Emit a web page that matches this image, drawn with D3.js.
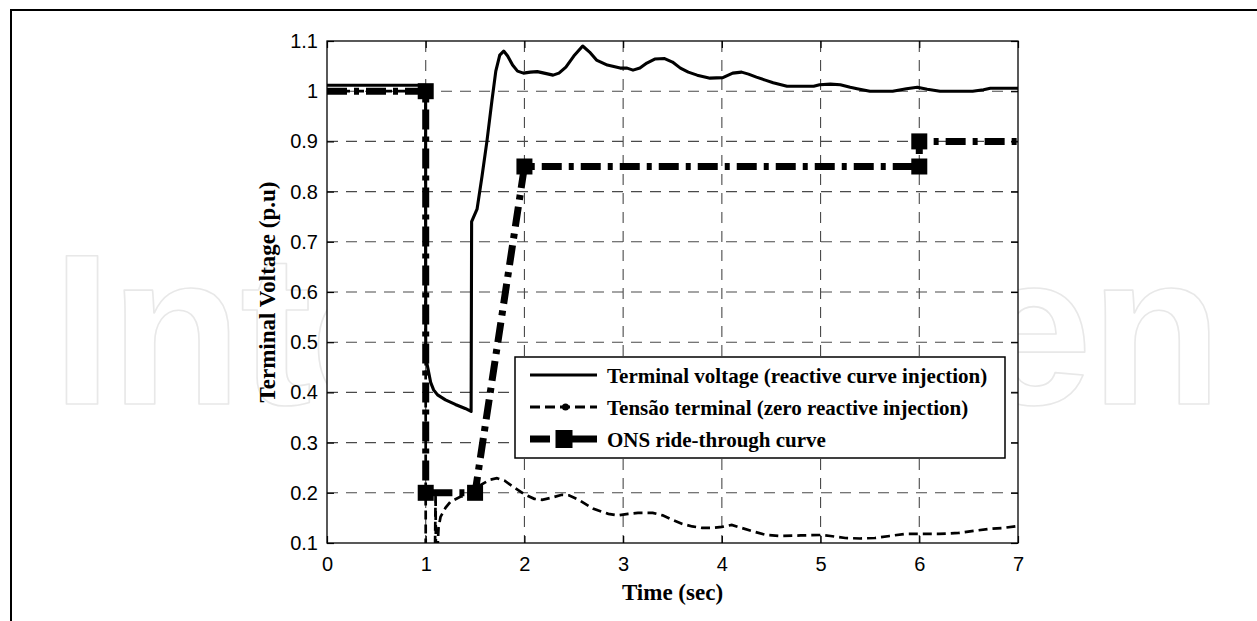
<!DOCTYPE html>
<html>
<head>
<meta charset="utf-8">
<script src="https://cdn.jsdelivr.net/npm/d3@7"></script>
<style>
  html, body { margin: 0; padding: 0; background: #fff; }
  svg { display: block; }
</style>
</head>
<body>
<script>
// ---------- DATA ----------
const xTickValues = [0, 1, 2, 3, 4, 5, 6, 7];
const yTickValues = [0.1, 0.2, 0.3, 0.4, 0.5, 0.6, 0.7, 0.8, 0.9, 1.0, 1.1];

// Terminal voltage (reactive curve injection)
const reactiveT = [0, 0.999, 1.0, 1.02, 1.05, 1.08, 1.12, 1.2, 1.3, 1.4, 1.46, 1.465, 1.52, 1.57, 1.62, 1.67, 1.71, 1.75, 1.79, 1.83, 1.88, 1.93, 1.99, 2.06, 2.13, 2.2, 2.29, 2.35, 2.42, 2.5, 2.59, 2.66, 2.73, 2.84, 2.97, 3.04, 3.10, 3.17, 3.24, 3.32, 3.42, 3.5, 3.58, 3.66, 3.75, 3.88, 4.01, 4.11, 4.2, 4.27, 4.35, 4.44, 4.52, 4.66, 4.8, 4.93, 4.99, 5.1, 5.2, 5.3, 5.37, 5.5, 5.73, 5.87, 5.98, 6.08, 6.21, 6.54, 6.65, 6.72, 7.0];
const reactiveV = [1.012, 1.012, 0.47, 0.45, 0.42, 0.405, 0.395, 0.385, 0.376, 0.368, 0.362, 0.74, 0.765, 0.83, 0.9, 0.98, 1.04, 1.072, 1.08, 1.07, 1.052, 1.04, 1.036, 1.038, 1.039, 1.036, 1.032, 1.036, 1.048, 1.07, 1.09, 1.078, 1.062, 1.052, 1.046, 1.046, 1.042, 1.046, 1.056, 1.064, 1.065, 1.058, 1.046, 1.038, 1.032, 1.026, 1.027, 1.036, 1.038, 1.034, 1.028, 1.022, 1.017, 1.01, 1.01, 1.01, 1.013, 1.014, 1.013, 1.008, 1.005, 1.0, 1.0, 1.005, 1.008, 1.004, 1.0, 1.0, 1.003, 1.006, 1.006];

// Tensão terminal (zero reactive injection)
const zeroT = [0, 0.999, 1.0, 1.09, 1.1, 1.105, 1.11, 1.12, 1.13, 1.15, 1.2, 1.25, 1.35, 1.43, 1.47, 1.55, 1.65, 1.72, 1.8, 1.9, 2.0, 2.1, 2.18, 2.27, 2.38, 2.45, 2.55, 2.7, 2.85, 2.95, 3.05, 3.15, 3.3, 3.4, 3.5, 3.6, 3.7, 3.8, 3.9, 4.0, 4.1, 4.2, 4.3, 4.45, 4.6, 4.8, 5.0, 5.1, 5.25, 5.4, 5.55, 5.7, 5.85, 6.0, 6.2, 6.4, 6.55, 6.7, 6.85, 7.0];
const zeroV = [1.0, 1.0, 0.0, 0.0, 0.2, 0.0, 0.0, 0.09, 0.13, 0.152, 0.17, 0.182, 0.192, 0.196, 0.2, 0.215, 0.226, 0.229, 0.224, 0.21, 0.197, 0.188, 0.186, 0.19, 0.196, 0.195, 0.186, 0.168, 0.158, 0.155, 0.158, 0.16, 0.16, 0.155, 0.146, 0.138, 0.133, 0.13, 0.13, 0.132, 0.136, 0.13, 0.124, 0.116, 0.114, 0.115, 0.116, 0.114, 0.11, 0.109, 0.11, 0.114, 0.118, 0.118, 0.118, 0.12, 0.124, 0.128, 0.13, 0.134];

// ONS ride-through curve
const onsT = [0, 1, 1, 1.5, 2, 6, 6, 7];
const onsV = [1.0, 1.0, 0.2, 0.2, 0.85, 0.85, 0.9, 0.9];
const onsMarkerIdx = [1, 2, 3, 4, 5, 6];

const legendLabels = [
  "Terminal voltage (reactive curve injection)",
  "Tensão terminal (zero reactive injection)",
  "ONS ride-through curve"
];
const xLabel = "Time (sec)";
const yLabel = "Terminal Voltage (p.u)";
const watermark = "IntechOpen";

// ---------- LAYOUT ----------
const W = 1257, H = 621;
const L = 327, T = 41, R = 1018, B = 543;

const svg = d3.select("body").append("svg").attr("width", W).attr("height", H);

// page frame (top + left lines)
svg.append("line").attr("x1", 10).attr("x2", W).attr("y1", 10).attr("y2", 10)
  .attr("stroke", "#000").attr("stroke-width", 2);
svg.append("line").attr("x1", 11).attr("x2", 11).attr("y1", 9).attr("y2", H)
  .attr("stroke", "#000").attr("stroke-width", 2);

// watermark (faint outline, single text)
svg.append("text")
  .attr("x", 52).attr("y", 404)
  .attr("font-family", "'Liberation Sans', Arial, sans-serif")
  .attr("font-weight", "bold")
  .attr("font-size", 216)
  .attr("letter-spacing", -2)
  .attr("fill", "none").attr("stroke", "#e8e8e8").attr("stroke-width", 1.6)
  .attr("stroke-linejoin", "round")
  .text(watermark);

const x = d3.scaleLinear().domain([0, 7]).range([L, R]);
const y = d3.scaleLinear().domain([0.1, 1.1]).range([B, T]);

// plot background
svg.append("rect").attr("x", L).attr("y", T).attr("width", R - L).attr("height", B - T).attr("fill", "#fff");

// grid
const grid = svg.append("g").attr("stroke", "#4a4a4a").attr("stroke-width", 1.1).attr("stroke-dasharray", "11,8");
grid.selectAll("line.gx").data(xTickValues.filter(d => d > 0 && d < 7)).join("line")
  .attr("x1", d => x(d)).attr("x2", d => x(d)).attr("y1", T).attr("y2", B);
grid.selectAll("line.gy").data(yTickValues.filter(d => d > 0.1 && d < 1.1)).join("line")
  .attr("x1", L).attr("x2", R).attr("y1", d => y(d)).attr("y2", d => y(d));

// axes
const fmt = d => String(+d.toFixed(1));
const tickFont = "'Liberation Sans', Arial, sans-serif";
const tk = 7;
const axB = svg.append("g").attr("transform", `translate(0,${B})`)
  .call(d3.axisBottom(x).tickValues(xTickValues).tickFormat(fmt).tickSizeInner(-tk).tickSizeOuter(0).tickPadding(14));
const axL = svg.append("g").attr("transform", `translate(${L},0)`)
  .call(d3.axisLeft(y).tickValues(yTickValues).tickFormat(fmt).tickSizeInner(-tk).tickSizeOuter(0).tickPadding(9));
const axT = svg.append("g").attr("transform", `translate(0,${T})`)
  .call(d3.axisTop(x).tickValues(xTickValues).tickFormat("").tickSizeInner(-tk).tickSizeOuter(0));
const axR = svg.append("g").attr("transform", `translate(${R},0)`)
  .call(d3.axisRight(y).tickValues(yTickValues).tickFormat("").tickSizeInner(-tk).tickSizeOuter(0));
[axB, axL, axT, axR].forEach(a => {
  a.select(".domain").remove();
  a.selectAll("line").attr("stroke", "#000").attr("stroke-width", 1.2);
  a.selectAll("text").attr("font-family", tickFont).attr("font-size", 20).attr("fill", "#000");
});
axB.selectAll("text").attr("dy", "0.71em");

// clip
svg.append("clipPath").attr("id", "clip").append("rect")
  .attr("x", L).attr("y", T).attr("width", R - L).attr("height", B - T);
const plot = svg.append("g").attr("clip-path", "url(#clip)");

const line = d3.line().x(d => x(d[0])).y(d => y(d[1]));

// dashed series
plot.append("path").datum(zeroT.map((t, i) => [t, zeroV[i]]))
  .attr("d", line).attr("fill", "none").attr("stroke", "#000")
  .attr("stroke-width", 2.7).attr("stroke-dasharray", "9,5");

// solid series
plot.append("path").datum(reactiveT.map((t, i) => [t, reactiveV[i]]))
  .attr("d", line).attr("fill", "none").attr("stroke", "#000")
  .attr("stroke-width", 3.1).attr("stroke-linejoin", "round");

// ONS curve
const onsData = onsT.map((t, i) => [t, onsV[i]]);
plot.append("path").datum(onsData)
  .attr("d", line).attr("fill", "none").attr("stroke", "#000")
  .attr("stroke-width", 7).attr("stroke-dasharray", "20,7,5,7");
const ms = 16;
svg.append("g").selectAll("rect").data(onsMarkerIdx.map(i => onsData[i])).join("rect")
  .attr("x", d => x(d[0]) - ms / 2).attr("y", d => y(d[1]) - ms / 2)
  .attr("width", ms).attr("height", ms).attr("fill", "#000");

// box
svg.append("rect").attr("x", L).attr("y", T).attr("width", R - L).attr("height", B - T)
  .attr("fill", "none").attr("stroke", "#000").attr("stroke-width", 1.3);

// axis labels
const serif = "'Liberation Serif', 'Times New Roman', serif";
svg.append("text").attr("x", (L + R) / 2).attr("y", 600).attr("text-anchor", "middle")
  .attr("font-family", serif).attr("font-weight", "bold").attr("font-size", 23).text(xLabel);
svg.append("text").attr("transform", `translate(275,${(T + B) / 2}) rotate(-90)`).attr("text-anchor", "middle")
  .attr("font-family", serif).attr("font-weight", "bold").attr("font-size", 23).text(yLabel);

// legend
const lg = svg.append("g");
lg.append("rect").attr("x", 515).attr("y", 357).attr("width", 490).attr("height", 101)
  .attr("fill", "#fff").attr("stroke", "#000").attr("stroke-width", 1.5);
const rowY = [375, 407, 439];
const sx0 = 530, sx1 = 597, sxm = (sx0 + sx1) / 2;
lg.append("line").attr("x1", sx0).attr("x2", sx1).attr("y1", rowY[0]).attr("y2", rowY[0])
  .attr("stroke", "#000").attr("stroke-width", 3.1);
lg.append("line").attr("x1", sx0).attr("x2", sx1).attr("y1", rowY[1]).attr("y2", rowY[1])
  .attr("stroke", "#000").attr("stroke-width", 2.8).attr("stroke-dasharray", "10,5");
lg.append("circle").attr("cx", sxm + 2).attr("cy", rowY[1]).attr("r", 3.5).attr("fill", "#000");
lg.append("line").attr("x1", sx0).attr("x2", sx1).attr("y1", rowY[2]).attr("y2", rowY[2])
  .attr("stroke", "#000").attr("stroke-width", 7).attr("stroke-dasharray", "20,7,40");
lg.append("rect").attr("x", sxm - 8).attr("y", rowY[2] - 9).attr("width", 17).attr("height", 18).attr("fill", "#000");
lg.selectAll("text").data(legendLabels).join("text")
  .attr("x", 607).attr("y", (d, i) => rowY[i] + 8)
  .attr("font-family", serif).attr("font-weight", "bold").attr("font-size", 21)
  .text(d => d);
</script>
</body>
</html>
